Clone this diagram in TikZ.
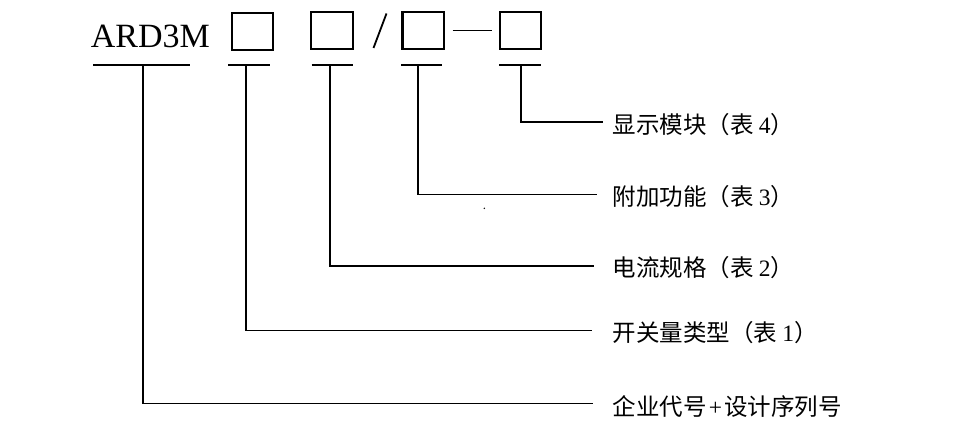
\documentclass[tikz,border=0pt]{standalone}
\usepackage{fontspec}
\setmainfont{Liberation Serif}
\newfontfamily\cjk{Noto Sans CJK SC}
\begin{document}
\begin{tikzpicture}[x=1pt,y=-1pt,line width=1.8pt,
  codebox/.style={draw, line width=2.1pt, minimum width=41.5pt, minimum height=37pt, inner sep=0pt},
  lbl/.style={anchor=west, inner sep=0pt, font=\fontsize{23.5}{23.5}\selectfont},
  codetext/.style={anchor=base west, inner sep=0pt, font=\fontsize{34}{34}\selectfont}]
\useasboundingbox (0,0) rectangle (959,436);
% code line
\node[codetext] (code) at (90,48) {ARD3M};
\node[codebox] (b1) at (252.5,31.3) {};
\node[codebox] (b2) at (332,30.5) {};
\node[codebox] (b3) at (423.2,30.5) {};
\node[codebox] (b4) at (520.3,30.5) {};
\coordinate (sl1) at (373.5,48);
\coordinate (sl2) at (386.5,13.5);
\draw (sl1) -- (sl2);
\draw ([xshift=7.5pt]b3.east) -- ([xshift=-7pt]b4.west);
% underlines
\draw (93,65) -- (190,65);
\draw (228,65) -- (270,65);
\draw (311.7,65) -- (352.7,65);
\draw (401,65) -- (442.3,65);
\draw (499.3,65) -- (541,65);
% stem tops
\coordinate (s1) at (143,65);
\coordinate (s2) at (245.7,65);
\coordinate (s3) at (330,65);
\coordinate (s4) at (418.3,65);
\coordinate (s5) at (520.7,65);
% line ends
\coordinate (e5) at (603,122.3);
\coordinate (e4) at (597,194.5);
\coordinate (e3) at (594,265.7);
\coordinate (e2) at (592,330.5);
\coordinate (e1) at (593,403.5);
\draw (s5) |- (e5);
\draw (s4) |- (e4);
\draw (s3) |- (e3);
\draw (s2) |- (e2);
\draw (s1) |- (e1);
% labels
\node[lbl] (t5) at (612,124.5) {{\cjk 显示模块（表}\hspace{5pt}4{\cjk ）}};
\node[lbl] (t4) at (612,196.5) {{\cjk 附加功能（表}\hspace{5pt}3{\cjk ）}};
\node[lbl] (t3) at (612,267.5) {{\cjk 电流规格（表}\hspace{5pt}2{\cjk ）}};
\node[lbl] (t2) at (612,333) {{\cjk 开关量类型（表}\hspace{5pt}1{\cjk ）}};
\node[lbl] (t1) at (612,406.5) {{\cjk 企业代号}\hspace{2pt}+\hspace{2pt}{\cjk 设计序列号}};
\fill (484.3,208.3) circle (0.8pt);
\end{tikzpicture}
\end{document}
